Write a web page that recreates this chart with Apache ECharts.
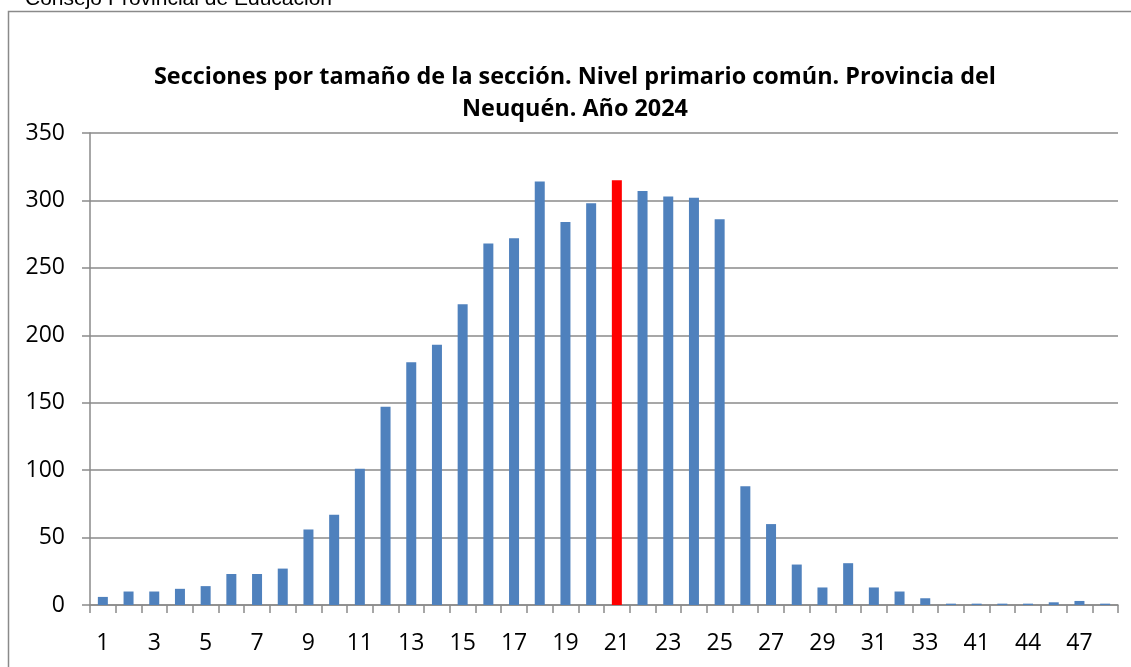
<!DOCTYPE html>
<html>
<head>
<meta charset="utf-8">
<script src="https://cdn.jsdelivr.net/npm/echarts@6/dist/echarts.min.js"></script>
<style>
html,body{margin:0;padding:0;background:#fff;}
#chart{width:1131px;height:667px;}
</style>
</head>
<body>
<div id="chart"></div>
<script>
const categories = ['1','2','3','4','5','6','7','8','9','10','11','12','13','14','15','16','17','18','19','20','21','22','23','24','25','26','27','28','29','30','31','32','33','34','41','42','44','45','47','48'];
const secciones = [6,10,10,12,14,23,23,27,56,67,101,147,180,193,223,268,272,314,284,298,315,307,303,302,286,88,60,30,13,31,13,10,5,1,1,1,1,2,3,1];
const highlightCategory = '21';
const yTicks = [0,50,100,150,200,250,300,350];
const titleText = 'Secciones por tamaño de la sección. Nivel primario común. Provincia del\nNeuquén. Año 2024';
const headerText = 'Consejo Provincial de Educación';

const chart = echarts.init(document.getElementById('chart'), null, {renderer:'canvas'});
const barData = secciones.map((v,i)=>({
  value: v,
  itemStyle: categories[i] === highlightCategory ? {color:'#FF0000'} : undefined
}));
chart.setOption({
  animation:false,
  backgroundColor:'#fff',
  graphic:[
    {type:'polyline', shape:{points:[[8.5,700],[8.5,11.5],[1140,11.5]]}, style:{fill:'none',stroke:'#8a8a8a',lineWidth:1.5}, z:-1},
    {type:'text', left:25, top:-11, style:{text:headerText, fontFamily:'Liberation Sans', fontSize:21, fill:'#000'}}
  ],
  title:{
    text:titleText,
    left:570,
    top:56,
    textAlign:'center',
    textStyle:{fontFamily:'Open Sans', fontWeight:'bold', fontSize:23.4, color:'#000', lineHeight:32}
  },
  grid:{left:90,right:13,top:133,bottom:62},
  xAxis:{
    type:'category',
    data:categories,
    boundaryGap:true,
    axisLine:{lineStyle:{color:'#8a8a8a',width:1.5}},
    axisTick:{show:true,interval:0,length:8,lineStyle:{color:'#8a8a8a',width:1.5}},
    axisLabel:{interval:1,color:'#000',fontFamily:'Open Sans',fontSize:23,margin:27}
  },
  yAxis:{
    type:'value',
    min:yTicks[0],
    max:yTicks[yTicks.length-1],
    interval:50,
    axisLine:{show:true,lineStyle:{color:'#8a8a8a',width:1.5}},
    axisTick:{show:true,length:8,lineStyle:{color:'#8a8a8a',width:1.5}},
    axisLabel:{color:'#000',fontFamily:'Open Sans',fontSize:23,margin:25},
    splitLine:{show:true,lineStyle:{color:'#8a8a8a',width:1.5}}
  },
  series:[{
    type:'bar',
    data:barData,
    barWidth:10,
    itemStyle:{color:'#4F81BD'}
  }]
});
</script>
</body>
</html>
